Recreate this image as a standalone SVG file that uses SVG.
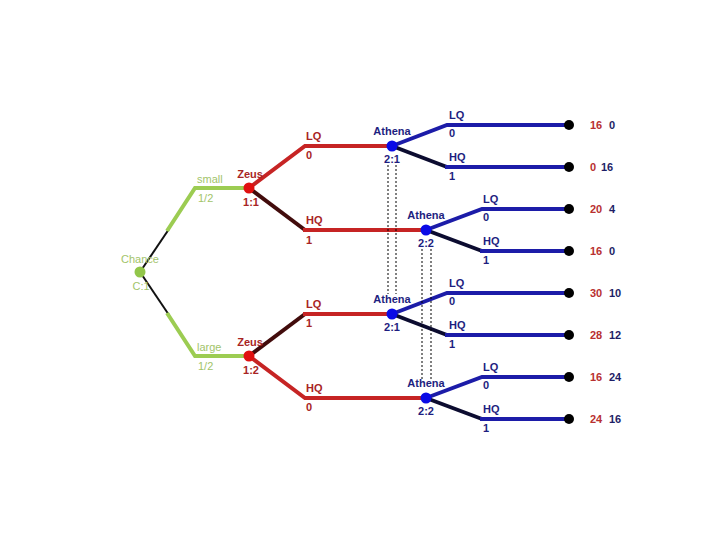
<svg xmlns="http://www.w3.org/2000/svg" width="720" height="540" viewBox="0 0 720 540">
<style>
text{font-family:"Liberation Sans",Arial,sans-serif;font-size:11px}
.g{stroke:#9ccc52;stroke-width:4;fill:none}
.gk{stroke:#111;stroke-width:2;fill:none}
.r{stroke:#c62424;stroke-width:4;fill:none}
.rk{stroke:#420c0c;stroke-width:4;fill:none}
.b{stroke:#1c1ca8;stroke-width:4;fill:none}
.bk{stroke:#0c0c30;stroke-width:4;fill:none}
.dot{stroke:#000;stroke-width:1;stroke-dasharray:2,2;fill:none}
.tg{fill:#a2c46a}
.tr{fill:#a82424;font-weight:bold}
.tb{fill:#1e1e80;font-weight:bold}
.pr{fill:#b83030;font-weight:bold}
.pb{fill:#1e1e66;font-weight:bold}
.mid{text-anchor:middle}
</style>
<rect width="720" height="540" fill="#fff"/>
<g id="connectors">
<line class="gk" x1="140" y1="272" x2="169" y2="229"/>
<polyline class="g" points="167,231 195,188 249,188"/>
<line class="gk" x1="140" y1="272" x2="169" y2="315"/>
<polyline class="g" points="167,313 195,356 249,356"/>
<polyline class="r" points="249,188 305,146 392,146"/>
<line class="rk" x1="249" y1="188" x2="305" y2="230"/>
<line class="r" x1="303" y1="230" x2="426" y2="230"/>
<line class="rk" x1="249" y1="356" x2="305" y2="314"/>
<line class="r" x1="303" y1="314" x2="392" y2="314"/>
<polyline class="r" points="249,356 305,398 426,398"/>
<polyline class="b" points="392,146 447,125 568,125"/>
<line class="bk" x1="392" y1="146" x2="447" y2="167"/>
<line class="b" x1="445" y1="167" x2="568" y2="167"/>
<polyline class="b" points="426,230 482,209 568,209"/>
<line class="bk" x1="426" y1="230" x2="482" y2="251"/>
<line class="b" x1="480" y1="251" x2="568" y2="251"/>
<polyline class="b" points="392,314 447,293 568,293"/>
<line class="bk" x1="392" y1="314" x2="447" y2="335"/>
<line class="b" x1="445" y1="335" x2="568" y2="335"/>
<polyline class="b" points="426,398 482,377 568,377"/>
<line class="bk" x1="426" y1="398" x2="482" y2="419"/>
<line class="b" x1="480" y1="419" x2="568" y2="419"/>
<line class="dot" x1="388" y1="165" x2="388" y2="294"/>
<line class="dot" x1="396" y1="165" x2="396" y2="294"/>
<line class="dot" x1="422" y1="249" x2="422" y2="380"/>
<line class="dot" x1="431" y1="249" x2="431" y2="380"/>
</g>
<g id="chance">
<circle cx="140" cy="272" r="5.5" fill="#92c64a"/>
<text class="tg mid" x="140" y="263">Chance</text>
<text class="tg mid" x="141" y="290">C:1</text>
<text class="tg" x="197" y="183">small</text>
<text class="tg" x="198" y="202">1/2</text>
<text class="tg" x="197" y="351">large</text>
<text class="tg" x="198" y="370">1/2</text>
</g>
<g id="zeus1">
<circle cx="249" cy="188" r="5.5" fill="#e01010"/>
<text class="tr mid" x="250" y="178">Zeus</text>
<text class="tr mid" x="251" y="206">1:1</text>
<text class="tr" x="306" y="140">LQ</text>
<text class="tr" x="306" y="159">0</text>
<text class="tr" x="306" y="224">HQ</text>
<text class="tr" x="306" y="244">1</text>
</g>
<g id="zeus2">
<circle cx="249" cy="356" r="5.5" fill="#e01010"/>
<text class="tr mid" x="250" y="346">Zeus</text>
<text class="tr mid" x="251" y="374">1:2</text>
<text class="tr" x="306" y="308">LQ</text>
<text class="tr" x="306" y="327">1</text>
<text class="tr" x="306" y="392">HQ</text>
<text class="tr" x="306" y="411">0</text>
</g>
<g id="athena1">
<circle cx="392" cy="146" r="5.5" fill="#0a0ae6"/>
<text class="tb mid" x="392" y="135">Athena</text>
<text class="tb mid" x="392" y="163">2:1</text>
<text class="tb" x="449" y="119">LQ</text>
<text class="tb" x="449" y="137">0</text>
<text class="tb" x="449" y="161">HQ</text>
<text class="tb" x="449" y="180">1</text>
</g>
<g id="athena2">
<circle cx="426" cy="230" r="5.5" fill="#0a0ae6"/>
<text class="tb mid" x="426" y="219">Athena</text>
<text class="tb mid" x="426" y="247">2:2</text>
<text class="tb" x="483" y="203">LQ</text>
<text class="tb" x="483" y="221">0</text>
<text class="tb" x="483" y="245">HQ</text>
<text class="tb" x="483" y="264">1</text>
</g>
<g id="athena3">
<circle cx="392" cy="314" r="5.5" fill="#0a0ae6"/>
<text class="tb mid" x="392" y="303">Athena</text>
<text class="tb mid" x="392" y="331">2:1</text>
<text class="tb" x="449" y="287">LQ</text>
<text class="tb" x="449" y="305">0</text>
<text class="tb" x="449" y="329">HQ</text>
<text class="tb" x="449" y="348">1</text>
</g>
<g id="athena4">
<circle cx="426" cy="398" r="5.5" fill="#0a0ae6"/>
<text class="tb mid" x="426" y="387">Athena</text>
<text class="tb mid" x="426" y="415">2:2</text>
<text class="tb" x="483" y="371">LQ</text>
<text class="tb" x="483" y="389">0</text>
<text class="tb" x="483" y="413">HQ</text>
<text class="tb" x="483" y="432">1</text>
</g>
<g id="t1"><circle cx="569" cy="125" r="5" fill="#000"/><text class="pr" x="590" y="129">16</text><text class="pb" x="609" y="129">0</text></g>
<g id="t2"><circle cx="569" cy="167" r="5" fill="#000"/><text class="pr" x="590" y="171">0</text><text class="pb" x="601" y="171">16</text></g>
<g id="t3"><circle cx="569" cy="209" r="5" fill="#000"/><text class="pr" x="590" y="213">20</text><text class="pb" x="609" y="213">4</text></g>
<g id="t4"><circle cx="569" cy="251" r="5" fill="#000"/><text class="pr" x="590" y="255">16</text><text class="pb" x="609" y="255">0</text></g>
<g id="t5"><circle cx="569" cy="293" r="5" fill="#000"/><text class="pr" x="590" y="297">30</text><text class="pb" x="609" y="297">10</text></g>
<g id="t6"><circle cx="569" cy="335" r="5" fill="#000"/><text class="pr" x="590" y="339">28</text><text class="pb" x="609" y="339">12</text></g>
<g id="t7"><circle cx="569" cy="377" r="5" fill="#000"/><text class="pr" x="590" y="381">16</text><text class="pb" x="609" y="381">24</text></g>
<g id="t8"><circle cx="569" cy="419" r="5" fill="#000"/><text class="pr" x="590" y="423">24</text><text class="pb" x="609" y="423">16</text></g>
</svg>
